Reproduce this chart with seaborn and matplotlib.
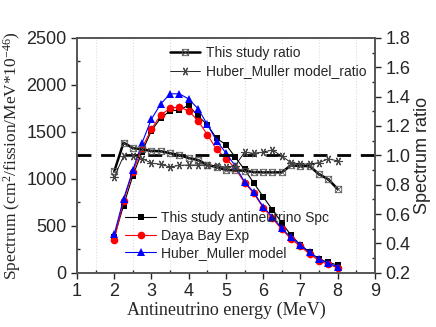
import numpy as np
import pandas as pd
import matplotlib
matplotlib.use('Agg')
import matplotlib.pyplot as plt
from matplotlib.ticker import MultipleLocator
import seaborn as sns

# Data
energy = [2.0, 2.25, 2.5, 2.75, 3.0, 3.25, 3.5, 3.75, 4.0, 4.25, 4.5, 4.75, 5.0,
          5.25, 5.5, 5.75, 6.0, 6.25, 6.5, 6.75, 7.0, 7.25, 7.5, 7.75, 8.0]
this_spc = [380, 715, 1034, 1289, 1513, 1648, 1722, 1733, 1783, 1669, 1577, 1430, 1365,
            1230, 1100, 955, 810, 670, 533, 398, 298, 217, 146, 110, 82]
daya_bay = [348, 764, 1072, 1331, 1530, 1680, 1751, 1765, 1722, 1620, 1470, 1314, 1215,
            1112, 959, 845, 692, 579, 462, 360, 280, 200, 128, 89, 55]
huber_spc = [410, 785, 1094, 1385, 1637, 1797, 1905, 1905, 1850, 1747, 1580, 1405, 1275,
             1137, 969, 856, 703, 596, 473, 377, 295, 217, 146, 100, 64]
this_ratio = [0.89, 1.086, 1.05, 1.04, 1.03, 1.028, 1.014, 1.002, 0.982, 0.968, 0.935, 0.92, 0.9,
              0.898, 0.895, 0.886, 0.884, 0.884, 0.884, 0.932, 0.927, 0.927, 0.871, 0.837, 0.771]
huber_ratio = [0.85, 0.995, 0.995, 0.978, 0.946, 0.939, 0.92, 0.932, 0.934, 0.934, 0.934, 0.927, 0.92,
               0.93, 1.02, 1.014, 1.022, 1.036, 0.995, 0.95, 0.941, 0.941, 0.95, 0.975, 0.963]

df = pd.DataFrame({'energy': energy, 'this_spc': this_spc, 'daya': daya_bay,
                   'huber': huber_spc, 'this_ratio': this_ratio, 'huber_ratio': huber_ratio})

sns.set_style('ticks')
plt.rcParams['font.family'] = ['Liberation Sans', 'DejaVu Sans']
plt.rcParams['mathtext.fontset'] = 'custom'
plt.rcParams['mathtext.rm'] = 'Liberation Serif'
plt.rcParams['mathtext.it'] = 'Liberation Serif:italic'

fig = plt.figure(figsize=(4.36, 3.27), dpi=100)
ax = fig.add_axes([0.1766, 0.166, 0.683, 0.718])
ax2 = ax.twinx()

# spectra (left axis)
sns.lineplot(data=df, x='energy', y='this_spc', ax=ax, color='black', lw=0.8,
             marker='s', markersize=4.5, markeredgewidth=0, label='This study antineutrino Spc')
sns.lineplot(data=df, x='energy', y='daya', ax=ax, color='red', lw=0.8,
             marker='o', markersize=5.5, markeredgewidth=0, label='Daya Bay Exp')
sns.lineplot(data=df, x='energy', y='huber', ax=ax, color='blue', lw=0.8,
             marker='^', markersize=6, markeredgewidth=0, label='Huber_Muller model')

# ratios (right axis)
sns.lineplot(data=df, x='energy', y='this_ratio', ax=ax2, color='black', lw=1.8,
             marker=r'$\boxtimes$', markersize=5, markeredgewidth=0.2,
             markeredgecolor='#555555', markerfacecolor='#555555', label='This study ratio')
sns.lineplot(data=df, x='energy', y='huber_ratio', ax=ax2, color='black', lw=0.6,
             marker=(6, 2, 90), markersize=6, markeredgewidth=0.8,
             markeredgecolor='#444444', label='Huber_Muller model_ratio')
ax2.axhline(1.0, color='black', lw=2, dashes=(5, 3.5), zorder=1)

ax.set_xlim(1, 9)
ax.set_ylim(0, 2500)
ax2.set_ylim(0.2, 1.8)
ax.xaxis.set_major_locator(MultipleLocator(1))
ax.xaxis.set_minor_locator(MultipleLocator(0.5))
ax.yaxis.set_major_locator(MultipleLocator(500))
ax.yaxis.set_minor_locator(MultipleLocator(250))
ax2.yaxis.set_major_locator(MultipleLocator(0.2))
ax2.yaxis.set_minor_locator(MultipleLocator(0.1))
ax.grid(which='minor', axis='x', color='#dddddd', ls=':', lw=0.8)

for a in (ax, ax2):
    a.tick_params(which='major', length=4, width=1, labelsize=13, direction='out')
    a.tick_params(which='minor', length=2.5, width=1, direction='in')
    for s in a.spines.values():
        s.set_color('#555555')
        s.set_linewidth(1.2)

ax.set_xlabel('Antineutrino energy (MeV)', family='Liberation Serif', fontsize=13, labelpad=1)
ax.set_ylabel(r'Spectrum (cm$^2$/fission/MeV*10$^{-46}$)', family='Liberation Serif',
              fontsize=12.5, labelpad=2)
ax2.set_ylabel('Spectrum ratio', fontsize=13, labelpad=3)

ax.legend(loc='lower left', bbox_to_anchor=(0.12, 0.0), frameon=False, fontsize=10,
          handlelength=2.2, handletextpad=0.4, labelspacing=0.25, borderaxespad=0.5)
ax2.legend(loc='upper right', frameon=False, fontsize=10, handlelength=2.2,
           handletextpad=0.4, labelspacing=0.3, borderaxespad=0.2)

fig.savefig('out.png', dpi=100)
